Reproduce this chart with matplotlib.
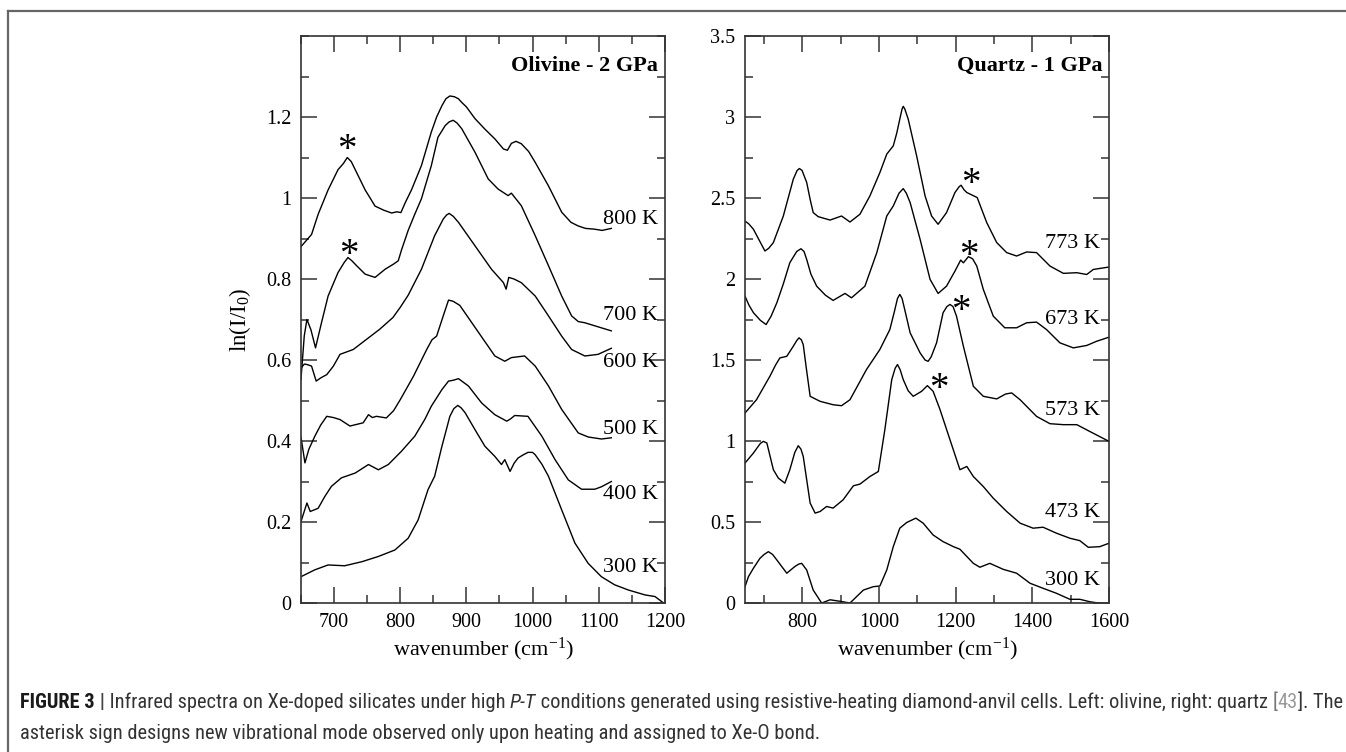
import numpy as np
import matplotlib
matplotlib.use('Agg')
import matplotlib.pyplot as plt
from matplotlib.ticker import MultipleLocator, FixedLocator
from matplotlib import font_manager

# ---- olivine (2 GPa) spectra ----
ol_800_x = [650, 658, 666, 676, 691, 706, 714, 720, 726, 732, 747, 762, 775, 787, 795, 801, 808, 817, 832, 847, 855, 863, 869, 875, 882, 888, 893, 900, 913, 928, 943, 956, 962, 968, 975, 983, 994, 1004, 1024, 1044, 1058, 1069, 1080, 1094, 1105, 1119]
ol_800_y = [0.88, 0.895, 0.91, 0.96, 1.02, 1.07, 1.085, 1.10, 1.09, 1.07, 1.02, 0.98, 0.97, 0.963, 0.966, 0.964, 0.99, 1.02, 1.08, 1.163, 1.20, 1.228, 1.245, 1.252, 1.25, 1.245, 1.236, 1.225, 1.196, 1.17, 1.146, 1.121, 1.118, 1.135, 1.14, 1.134, 1.115, 1.088, 1.030, 0.965, 0.94, 0.931, 0.925, 0.923, 0.92, 0.925]
ol_700_x = [650, 655, 659, 665, 672, 681, 691, 706, 715, 721, 727, 734, 747, 762, 777, 790, 797, 802, 812, 822, 832, 847, 857, 868, 874, 880, 886, 893, 913, 933, 948, 963, 968, 983, 1004, 1024, 1044, 1059, 1069, 1079, 1099, 1119]
ol_700_y = [0.552, 0.66, 0.700, 0.675, 0.630, 0.692, 0.758, 0.816, 0.84, 0.853, 0.845, 0.833, 0.812, 0.804, 0.824, 0.837, 0.845, 0.872, 0.920, 0.96, 0.998, 1.080, 1.150, 1.179, 1.188, 1.192, 1.185, 1.171, 1.113, 1.047, 1.022, 1.006, 1.012, 0.981, 0.907, 0.833, 0.758, 0.709, 0.695, 0.692, 0.682, 0.672]
ol_600_x = [650, 655, 659, 666, 673, 680, 689, 699, 709, 729, 749, 769, 789, 800, 812, 832, 852, 865, 870, 874, 880, 888, 913, 938, 956, 960, 964, 972, 983, 1004, 1024, 1044, 1059, 1079, 1099, 1119]
ol_600_y = [0.58, 0.59, 0.589, 0.585, 0.548, 0.556, 0.564, 0.585, 0.614, 0.626, 0.651, 0.676, 0.705, 0.73, 0.76, 0.824, 0.907, 0.948, 0.958, 0.962, 0.955, 0.94, 0.882, 0.824, 0.791, 0.775, 0.804, 0.800, 0.791, 0.758, 0.709, 0.659, 0.626, 0.610, 0.614, 0.629]
ol_500_x = [650, 656, 662, 671, 680, 689, 699, 709, 724, 744, 752, 758, 764, 779, 790, 800, 820, 840, 848, 855, 865, 873, 880, 890, 915, 943, 958, 968, 988, 1004, 1024, 1044, 1069, 1084, 1104, 1119]
ol_500_y = [0.41, 0.346, 0.38, 0.412, 0.44, 0.461, 0.458, 0.453, 0.437, 0.445, 0.465, 0.458, 0.461, 0.457, 0.475, 0.502, 0.560, 0.626, 0.650, 0.659, 0.709, 0.748, 0.745, 0.735, 0.676, 0.610, 0.597, 0.606, 0.610, 0.585, 0.536, 0.478, 0.420, 0.410, 0.405, 0.408]
ol_400_x = [650, 659, 664, 676, 686, 696, 711, 732, 752, 767, 782, 802, 822, 837, 847, 863, 873, 880, 888, 903, 923, 943, 961, 967, 973, 993, 1014, 1034, 1054, 1074, 1094, 1104, 1119]
ol_400_y = [0.201, 0.247, 0.226, 0.234, 0.263, 0.288, 0.309, 0.321, 0.342, 0.329, 0.342, 0.375, 0.412, 0.453, 0.486, 0.527, 0.548, 0.55, 0.554, 0.536, 0.494, 0.465, 0.449, 0.455, 0.463, 0.461, 0.412, 0.354, 0.304, 0.281, 0.281, 0.287, 0.300]
ol_300_x = [650, 671, 691, 716, 742, 767, 792, 812, 827, 842, 852, 863, 870, 875, 881, 887, 892, 898, 913, 928, 943, 953, 958, 966, 972, 978, 986, 993, 1000, 1004, 1014, 1024, 1044, 1064, 1084, 1104, 1124, 1145, 1170, 1185, 1198]
ol_300_y = [0.065, 0.082, 0.094, 0.092, 0.102, 0.115, 0.131, 0.160, 0.205, 0.280, 0.313, 0.387, 0.43, 0.461, 0.48, 0.488, 0.482, 0.470, 0.428, 0.387, 0.362, 0.342, 0.354, 0.325, 0.345, 0.358, 0.366, 0.372, 0.372, 0.366, 0.343, 0.313, 0.230, 0.148, 0.098, 0.065, 0.045, 0.032, 0.020, 0.016, 0.0]

ol_labels = ['800 K', '700 K', '600 K', '500 K', '400 K', '300 K']
ol_label_y = [0.948, 0.709, 0.593, 0.428, 0.267, 0.087]
ol_star_x = [719, 723]
ol_star_y = [1.138, 0.878]

# ---- quartz (1 GPa) spectra ----
qz_773_x = [650, 660, 672, 687, 702, 712, 724, 750, 776, 786, 792, 799, 811, 820, 828, 841, 872, 902, 924, 950, 976, 1002, 1020, 1037, 1046, 1054, 1060, 1063, 1067, 1076, 1098, 1120, 1137, 1154, 1176, 1198, 1209, 1214, 1222, 1229, 1256, 1281, 1307, 1333, 1359, 1385, 1411, 1446, 1481, 1516, 1542, 1559, 1600]
qz_773_y = [2.358, 2.34, 2.307, 2.24, 2.173, 2.19, 2.225, 2.389, 2.616, 2.67, 2.682, 2.67, 2.596, 2.492, 2.410, 2.385, 2.364, 2.389, 2.352, 2.400, 2.513, 2.657, 2.771, 2.822, 2.90, 2.987, 3.05, 3.066, 3.05, 2.987, 2.760, 2.513, 2.389, 2.338, 2.410, 2.534, 2.57, 2.579, 2.55, 2.534, 2.503, 2.348, 2.225, 2.163, 2.142, 2.167, 2.163, 2.080, 2.035, 2.039, 2.028, 2.059, 2.074]
qz_673_x = [650, 660, 672, 690, 705, 718, 733, 750, 767, 785, 796, 804, 811, 822, 837, 860, 880, 911, 928, 963, 994, 1020, 1037, 1052, 1063, 1071, 1081, 1107, 1133, 1154, 1176, 1198, 1213, 1220, 1233, 1244, 1255, 1272, 1298, 1328, 1359, 1385, 1411, 1437, 1472, 1507, 1542, 1568, 1600]
qz_673_y = [1.894, 1.84, 1.792, 1.745, 1.719, 1.77, 1.853, 1.97, 2.101, 2.17, 2.187, 2.17, 2.121, 2.03, 1.956, 1.90, 1.868, 1.911, 1.884, 1.956, 2.163, 2.389, 2.451, 2.53, 2.558, 2.53, 2.472, 2.245, 1.998, 1.911, 1.956, 2.049, 2.117, 2.100, 2.138, 2.125, 2.080, 1.936, 1.771, 1.699, 1.699, 1.730, 1.734, 1.688, 1.606, 1.575, 1.590, 1.616, 1.641]
qz_573_x = [650, 680, 715, 730, 741, 759, 776, 785, 791, 797, 802, 810, 820, 846, 880, 902, 924, 967, 1002, 1028, 1040, 1048, 1054, 1060, 1068, 1081, 1107, 1120, 1128, 1136, 1150, 1167, 1177, 1185, 1193, 1202, 1220, 1246, 1272, 1307, 1330, 1346, 1368, 1411, 1446, 1481, 1516, 1550, 1600]
qz_573_y = [1.173, 1.255, 1.400, 1.47, 1.513, 1.523, 1.585, 1.62, 1.637, 1.625, 1.595, 1.45, 1.276, 1.245, 1.224, 1.218, 1.255, 1.441, 1.565, 1.688, 1.80, 1.88, 1.905, 1.88, 1.80, 1.668, 1.544, 1.50, 1.492, 1.52, 1.606, 1.792, 1.83, 1.843, 1.83, 1.771, 1.585, 1.338, 1.276, 1.260, 1.29, 1.297, 1.255, 1.152, 1.107, 1.101, 1.101, 1.059, 0.998]
qz_473_x = [650, 672, 690, 698, 707, 724, 737, 754, 767, 780, 789, 796, 802, 820, 833, 846, 863, 880, 906, 933, 950, 976, 998, 1015, 1033, 1042, 1048, 1055, 1063, 1076, 1089, 1111, 1126, 1141, 1159, 1185, 1211, 1229, 1246, 1272, 1298, 1333, 1368, 1402, 1428, 1463, 1498, 1524, 1546, 1576, 1600]
qz_473_y = [0.864, 0.926, 0.985, 0.998, 0.988, 0.823, 0.771, 0.740, 0.823, 0.93, 0.971, 0.95, 0.905, 0.617, 0.555, 0.565, 0.596, 0.586, 0.637, 0.724, 0.734, 0.781, 0.812, 1.070, 1.379, 1.45, 1.472, 1.44, 1.379, 1.31, 1.276, 1.307, 1.342, 1.307, 1.194, 1.008, 0.823, 0.843, 0.781, 0.719, 0.647, 0.565, 0.493, 0.462, 0.468, 0.431, 0.400, 0.385, 0.344, 0.348, 0.369]
qz_300_x = [650, 659, 672, 689, 700, 711, 722, 733, 759, 780, 790, 798, 811, 828, 850, 872, 900, 924, 959, 985, 1002, 1020, 1037, 1054, 1072, 1096, 1115, 1141, 1167, 1194, 1211, 1246, 1263, 1289, 1324, 1359, 1394, 1428, 1463, 1498, 1524, 1550, 1572]
qz_300_y = [0.101, 0.163, 0.215, 0.276, 0.30, 0.317, 0.30, 0.266, 0.184, 0.225, 0.24, 0.245, 0.204, 0.080, 0.0, 0.02, 0.01, 0.0, 0.080, 0.101, 0.105, 0.204, 0.348, 0.462, 0.497, 0.524, 0.493, 0.420, 0.379, 0.348, 0.332, 0.245, 0.221, 0.245, 0.208, 0.184, 0.122, 0.091, 0.060, 0.023, 0.023, 0.008, 0.0]

qz_labels = ['773 K', '673 K', '573 K', '473 K', '300 K']
qz_label_y = [2.22, 1.75, 1.19, 0.558, 0.138]
qz_star_x = [1240, 1235, 1214, 1157]
qz_star_y = [2.633, 2.193, 1.853, 1.369]

caption_1 = ['FIGURE 3', ' |', ' Infrared spectra on Xe-doped silicates under high ', 'P-T',
             ' conditions generated using resistive-heating diamond-anvil cells. Left: olivine, right: quartz ',
             '[', '43', ']. The']
caption_2 = 'asterisk sign designs new vibrational mode observed only upon heating and assigned to Xe-O bond.'

serif = ['Liberation Serif', 'DejaVu Serif']
plt.rcParams['font.family'] = serif
plt.rcParams['mathtext.fontset'] = 'custom'
plt.rcParams['mathtext.rm'] = 'Liberation Serif'
plt.rcParams['mathtext.it'] = 'Liberation Serif:italic'

fig = plt.figure(figsize=(13.46, 7.52), dpi=100)

def style_axes(ax, xlim, ylim, xmaj, xmin, ymin, ylabels):
    ax.set_xlim(*xlim)
    ax.set_ylim(*ylim)
    ax.xaxis.set_major_locator(MultipleLocator(xmaj))
    ax.xaxis.set_minor_locator(MultipleLocator(xmin))
    ax.yaxis.set_major_locator(FixedLocator(ylabels))
    ax.yaxis.set_minor_locator(MultipleLocator(ymin))
    ax.yaxis.set_major_formatter(plt.FuncFormatter(lambda v, p: ('%g' % round(v, 2))))
    ax.xaxis.set_major_formatter(plt.FuncFormatter(lambda v, p: '' if v < xlim[0] + 1 else '%d' % v))
    ax.tick_params(which='both', direction='in', top=True, right=True, width=1.1, color='#333333')
    ax.tick_params(which='major', length=11.5, labelsize=14.5, pad=7)
    ax.tick_params(which='minor', length=5.8)
    for s in ax.spines.values():
        s.set_linewidth(1.2)
        s.set_color('#333333')
    ax.set_xlabel('wavenumber (cm$^{-1}$)', fontsize=16, labelpad=3)

def stars(ax, xs, ys):
    for sx, sy in zip(xs, ys):
        ax.annotate('*', (sx, sy), xytext=(0, -6), textcoords='offset points',
                    ha='center', va='center', fontsize=28)

# left panel: olivine
ax1 = fig.add_axes([0.2236, 0.1981, 0.2704, 0.7540])
for xs, ys in [(ol_800_x, ol_800_y), (ol_700_x, ol_700_y), (ol_600_x, ol_600_y),
               (ol_500_x, ol_500_y), (ol_400_x, ol_400_y), (ol_300_x, ol_300_y)]:
    ax1.plot(xs, ys, color='black', lw=1.0)
style_axes(ax1, (650, 1200), (0, 1.4), 100, 50, 0.1, [0, 0.2, 0.4, 0.6, 0.8, 1.0, 1.2])
for lab, yy in zip(ol_labels, ol_label_y):
    ax1.text(1189, yy, lab, ha='right', va='center', fontsize=16)
stars(ax1, ol_star_x, ol_star_y)
ax1.text(1189, 1.327, 'Olivine - 2 GPa', ha='right', va='center', fontsize=16, fontweight='bold')
ax1.set_ylabel('ln(I/I$_0$)', fontsize=16.5, labelpad=9)

# right panel: quartz
ax2 = fig.add_axes([0.5535, 0.1981, 0.2704, 0.7540])
for xs, ys in [(qz_773_x, qz_773_y), (qz_673_x, qz_673_y), (qz_573_x, qz_573_y),
               (qz_473_x, qz_473_y), (qz_300_x, qz_300_y)]:
    ax2.plot(xs, ys, color='black', lw=1.0)
style_axes(ax2, (650, 1600), (0, 3.5), 200, 100, 0.25, [0, 0.5, 1, 1.5, 2, 2.5, 3, 3.5])
for lab, yy in zip(qz_labels, qz_label_y):
    ax2.text(1576, yy, lab, ha='right', va='center', fontsize=16)
stars(ax2, qz_star_x, qz_star_y)
ax2.text(1583, 3.317, 'Quartz - 1 GPa', ha='right', va='center', fontsize=16, fontweight='bold')

# frame lines of the figure box
fig.add_artist(plt.Line2D([7.5 / 1346, 7.5 / 1346], [0, 1 - 10.5 / 752], color='#666666', lw=1.6))
fig.add_artist(plt.Line2D([7.5 / 1346, 1], [1 - 10.5 / 752, 1 - 10.5 / 752], color='#666666', lw=1.6))

# caption (narrow sans if one is installed)
names = set(f.name for f in font_manager.fontManager.ttflist)
cap_font = 'Liberation Sans'
for cand in ['Liberation Sans Narrow', 'Roboto Condensed', 'Open Sans Condensed', 'Noto Sans Condensed']:
    if cand in names:
        cap_font = cand
        break
renderer = fig.canvas.get_renderer()
styles = [dict(fontweight='bold', color='#1a1a1a'), dict(fontweight='bold', color='#444444'),
          dict(color='#333333'), dict(style='italic', color='#333333'), dict(color='#333333'),
          dict(color='#777777'), dict(color='#999999'), dict(color='#333333')]

def draw_line1(size):
    x = 20
    arts = []
    for txt, st in zip(caption_1, styles):
        t = fig.text(x / 1346, 1 - 708 / 752, txt, fontsize=size, family=cap_font, va='baseline', **st)
        arts.append(t)
        x = t.get_window_extent(renderer).x1
    return arts, x

arts, xend = draw_line1(10)
for a in arts:
    a.remove()
cap_size = 10 * (1334 - 20) / (xend - 20)
draw_line1(cap_size)
fig.text(20 / 1346, 1 - 739 / 752, caption_2, fontsize=cap_size, family=cap_font, va='baseline', color='#333333')

fig.savefig('out.png', dpi=100)
